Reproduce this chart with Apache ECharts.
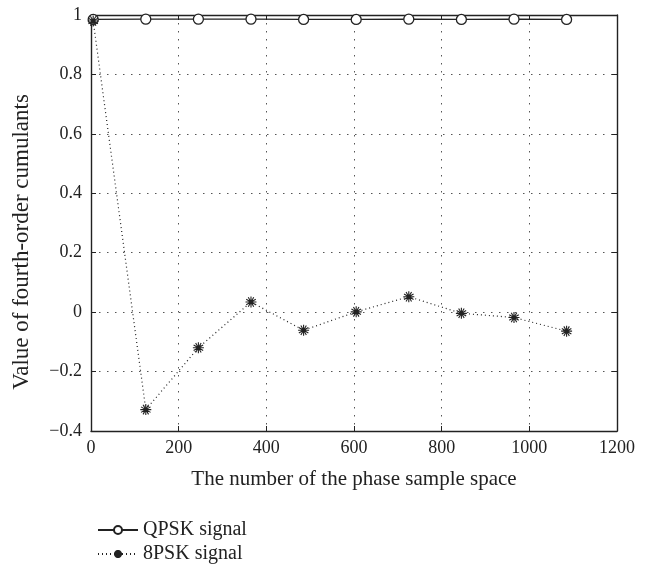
<!DOCTYPE html>
<html><head><meta charset="utf-8">
<script src="https://cdn.jsdelivr.net/npm/echarts@6/dist/echarts.min.js"></script>
<style>html,body{margin:0;padding:0;background:#fff}#c{width:652px;height:564px}</style>
</head><body><div id="c"></div>
<script>
const xValues = [5, 125, 245, 365, 485, 605, 725, 845, 965, 1085];
const qpskValues = [0.985, 0.986, 0.986, 0.986, 0.985, 0.985, 0.986, 0.985, 0.986, 0.985];
const psk8Values = [0.98, -0.328, -0.12, 0.034, -0.061, 0.001, 0.052, -0.004, -0.018, -0.064];
const xTicks = [0, 200, 400, 600, 800, 1000, 1200];
const yTicks = [-0.4, -0.2, 0, 0.2, 0.4, 0.6, 0.8, 1];
const seriesNames = ['QPSK signal', '8PSK signal'];

const FONT = '"Liberation Serif", "DejaVu Serif", serif';
const ink = '#222';
const chart = echarts.init(document.getElementById('c'));
const fmtY = v => { const r = Math.round(v * 10) / 10; return r < 0 ? '\u2212' + Math.abs(r) : String(r); };
const fmtX = v => String(Math.round(v));
const asterisk = 'path://M0,-6L0,6M-5.2,-3L5.2,3M-5.2,3L5.2,-3M-3,-5.2L3,5.2M-3,5.2L3,-5.2M-6,0L6,0';
const axLine = { show: true, onZero: false, lineStyle: { color: ink, width: 1.4 } };
const axTick = { show: true, inside: true, length: 5, lineStyle: { color: ink, width: 1 } };
const gridLine = { show: true, lineStyle: { type: [1.5, 6.5], color: '#555', width: 1 } };
const legendText = { fontFamily: FONT, fontSize: 20, color: ink };
chart.setOption({
  animation: false,
  grid: { left: 91, top: 15, right: 35, bottom: 133 },
  legend: [{
    left: 92, top: 515, itemWidth: 40, itemHeight: 10, itemGap: 12,
    textStyle: legendText, data: [seriesNames[0]]
  }, {
    left: 92, top: 539, itemWidth: 40, itemHeight: 10, itemGap: 12,
    textStyle: legendText, data: [seriesNames[1]]
  }],
  xAxis: [{
    type: 'value', min: xTicks[0], max: xTicks[xTicks.length - 1], interval: 200,
    name: 'The number of the phase sample space', nameLocation: 'middle', nameGap: 38,
    nameTextStyle: { fontFamily: FONT, fontSize: 21, color: ink },
    axisLine: axLine, axisTick: axTick,
    axisLabel: { fontFamily: FONT, fontSize: 18, color: ink, margin: 8, formatter: fmtX },
    splitLine: gridLine
  }, {
    type: 'value', position: 'top', min: xTicks[0], max: xTicks[xTicks.length - 1], interval: 200,
    axisLine: axLine, axisTick: axTick,
    axisLabel: { show: false }, splitLine: { show: false }
  }],
  yAxis: [{
    type: 'value', min: yTicks[0], max: yTicks[yTicks.length - 1], interval: 0.2,
    name: 'Value of fourth-order cumulants', nameLocation: 'middle', nameGap: 58,
    nameTextStyle: { fontFamily: FONT, fontSize: 23, color: ink, padding: [0, 38, 0, 0] },
    axisLine: axLine, axisTick: axTick,
    axisLabel: { fontFamily: FONT, fontSize: 18, color: ink, margin: 9, formatter: fmtY },
    splitLine: gridLine
  }, {
    type: 'value', position: 'right', min: yTicks[0], max: yTicks[yTicks.length - 1], interval: 0.2,
    axisLine: axLine, axisTick: axTick,
    axisLabel: { show: false }, splitLine: { show: false }
  }],
  series: [{
    name: seriesNames[0], type: 'line', xAxisIndex: 0, yAxisIndex: 0,
    data: xValues.map((x, i) => [x, qpskValues[i]]),
    symbol: 'circle', symbolSize: 10, showAllSymbol: true,
    lineStyle: { color: ink, width: 1.3 },
    itemStyle: { color: '#fff', borderColor: ink, borderWidth: 1.3 }
  }, {
    name: seriesNames[1], type: 'line', xAxisIndex: 0, yAxisIndex: 0,
    data: xValues.map((x, i) => [x, psk8Values[i]]),
    symbol: asterisk, symbolSize: 11, showAllSymbol: true,
    lineStyle: { color: ink, width: 1.2, type: [1, 3] },
    itemStyle: { color: ink, borderColor: ink, borderWidth: 1.1 }
  }]
});
</script></body></html>
